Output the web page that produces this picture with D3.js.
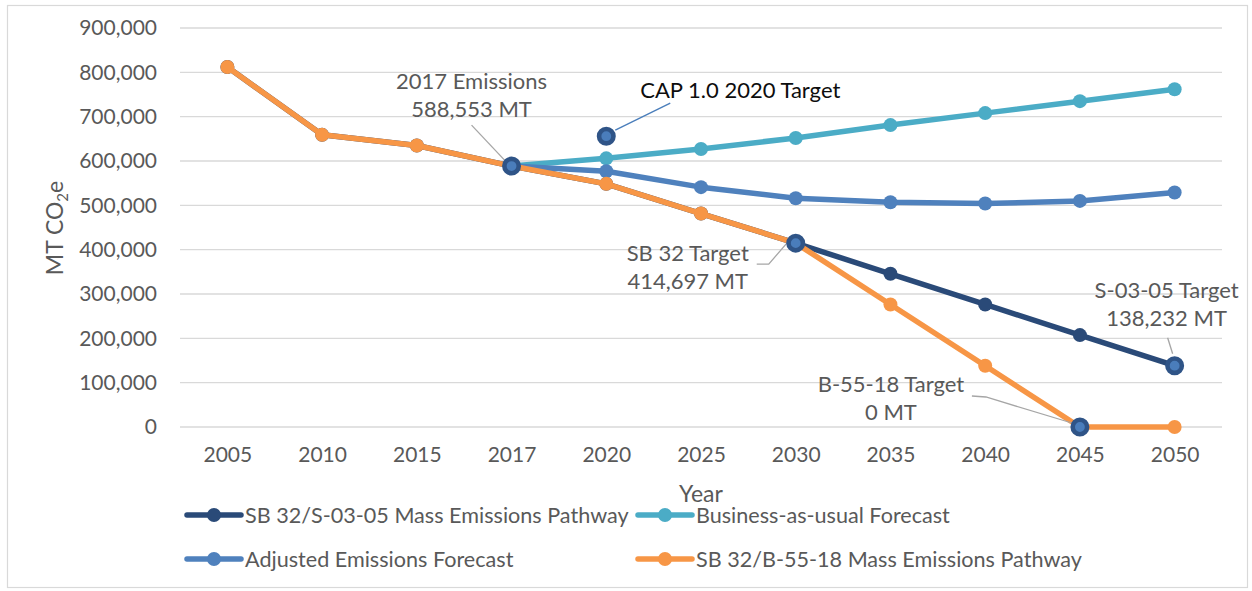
<!DOCTYPE html>
<html>
<head>
<meta charset="utf-8">
<script src="https://cdn.jsdelivr.net/npm/d3@7"></script>
<style>
  html,body{margin:0;padding:0;background:#fff;}
  svg{display:block;}
  text{font-family:Lato, "Open Sans", sans-serif;}
</style>
</head>
<body>
<svg id="chart" width="1252" height="591"></svg>
<script>
// ---- data ----
const years = ["2005","2010","2015","2017","2020","2025","2030","2035","2040","2045","2050"];
const sb32S0305 = [812000, 659000, 635000, 588553, 548432, 481564, 414697, 345581, 276465, 207349, 138232];
const bau       = [null, null, null, 588553, 606000, 627000, 652000, 681000, 708000, 735000, 762000];
const adjusted  = [null, null, null, 588553, 577000, 541000, 516000, 507000, 504000, 510000, 529000];
const sb32B5518 = [812000, 659000, 635000, 588553, 548432, 481564, 414697, 276465, 138232, 0, 0];
const yTicks = [0,100000,200000,300000,400000,500000,600000,700000,800000,900000];
const seriesNames = ["SB 32/S-03-05 Mass Emissions Pathway","Business-as-usual Forecast","Adjusted Emissions Forecast","SB 32/B-55-18 Mass Emissions Pathway"];
const targetYears = ["2017","2020","2030","2045","2050"];
const targetValues = [588553, 656000, 414697, 0, 138232];
const annoLines = [["2017 Emissions","588,553 MT"],["CAP 1.0 2020 Target"],["SB 32 Target","414,697 MT"],["B-55-18 Target","0 MT"],["S-03-05 Target","138,232 MT"]];

// ---- style ----
const colors = ["#2a4a78","#4bacc6","#4f81bd","#f79646"];
const textGray = "#595959";
const gridGray = "#d9d9d9";

const svg = d3.select("#chart");
// outer border
svg.append("rect").attr("x",7.5).attr("y",5.5).attr("width",1240).attr("height",582)
  .attr("fill","none").attr("stroke",gridGray).attr("stroke-width",1.2);

const x = d3.scalePoint().domain(years).range([180,1222]).padding(0.5);
const y = d3.scaleLinear().domain([0,900000]).range([427,28]);

// grid
svg.append("g").selectAll("line").data(yTicks).join("line")
  .attr("x1",180).attr("x2",1222).attr("y1",d=>y(d)).attr("y2",d=>y(d))
  .attr("stroke",gridGray).attr("stroke-width",1.4);

// y axis labels
const yAxis = d3.axisLeft(y).tickValues(yTicks).tickFormat(d3.format(",")).tickSize(0).tickPadding(0);
const gy = svg.append("g").attr("transform","translate(157,0)").call(yAxis);
gy.select(".domain").remove();
gy.selectAll("text").attr("fill",textGray).style("font-size","21px").style("font-family","Lato");

// x axis labels
const xAxis = d3.axisBottom(x).tickSize(0).tickPadding(0);
const gx = svg.append("g").attr("transform","translate(0,447)").call(xAxis);
gx.select(".domain").remove();
gx.selectAll("text").attr("fill",textGray).style("font-size","21px").style("font-family","Lato");

// axis titles
svg.append("text").attr("x",701).attr("y",502).attr("text-anchor","middle")
  .attr("fill",textGray).style("font-size","23px").text("Year");
const yt = svg.append("text").attr("transform","translate(63,228) rotate(-90)").attr("text-anchor","middle")
  .attr("fill",textGray).style("font-size","23px");
yt.append("tspan").text("MT CO");
yt.append("tspan").attr("dy",5).style("font-size","15px").text("2");
yt.append("tspan").attr("dy",-5).text("e");

// series
const allSeries = [sb32S0305, bau, adjusted, sb32B5518];
const line = d3.line().defined(d=>d.v!=null).x(d=>x(d.year)).y(d=>y(d.v));
allSeries.forEach((vals,i)=>{
  const pts = years.map((yr,j)=>({year:yr, v:vals[j]}));
  const g = svg.append("g");
  g.append("path").datum(pts).attr("d",line).attr("fill","none")
    .attr("stroke",colors[i]).attr("stroke-width",5.5).attr("stroke-linejoin","round");
  g.selectAll("circle").data(pts.filter(d=>d.v!=null)).join("circle")
    .attr("cx",d=>x(d.year)).attr("cy",d=>y(d.v)).attr("r",7).attr("fill",colors[i]);
});

// leader lines (drawn beneath target markers)
const pos = i => [x(targetYears[i]), y(targetValues[i])];
const leaders = svg.append("g").attr("fill","none").attr("stroke","#a6a6a6").attr("stroke-width",1.3);
{
  let [ax,ay] = pos(0);
  leaders.append("path").attr("d",`M${ax-40},${ay-41} L${ax-7},${ay-6}`);
  [ax,ay] = pos(2);
  leaders.append("path").attr("d",`M${ax-39},${ay+21} L${ax-27},${ay+21} L${ax-8},${ay-1}`);
  [ax,ay] = pos(3);
  leaders.append("path").attr("d",`M${ax-108},${ay-31} L${ax-94},${ay-30} L${ax-8},${ay-4}`);
  [ax,ay] = pos(4);
  leaders.append("path").attr("d",`M${ax-7},${ay-28} L${ax-2},${ay-12}`);
  [ax,ay] = pos(1);
  svg.append("path").attr("d",`M${ax+9},${ay-6} L${ax+64},${ay-33}`)
    .attr("stroke","#4a7ebb").attr("stroke-width",1.4).attr("fill","none");
}

// target markers
svg.append("g").selectAll("circle").data(targetYears.map((t,i)=>({year:t,v:targetValues[i]}))).join("circle")
  .attr("cx",d=>x(d.year)).attr("cy",d=>y(d.v)).attr("r",7.2)
  .attr("fill","#4a7dbb").attr("stroke","#2f5487").attr("stroke-width",4.6);

// annotation text
function anno(lines, cx, cy, anchor, color){
  lines.forEach((s,k)=>{
    svg.append("text").attr("x",cx).attr("y",cy + k*28).attr("text-anchor",anchor)
      .attr("dominant-baseline","central").attr("fill",color).style("font-size","22px").text(s);
  });
}
{
  let [ax,ay] = pos(0); anno(annoLines[0], ax-40, ay-86, "middle", textGray);
  [ax,ay] = pos(1); anno(annoLines[1], ax+34, ay-47, "start", "#0d0d0d");
  [ax,ay] = pos(2); anno(annoLines[2], ax-108, ay+9, "middle", textGray);
  [ax,ay] = pos(3); anno(annoLines[3], ax-189, ay-44, "middle", textGray);
  [ax,ay] = pos(4); anno(annoLines[4], ax-8, ay-76, "middle", textGray);
}

// legend
const legendX = [187, 638];
const legendY = [515, 559];
const legendOrder = [0,1,2,3];
legendOrder.forEach((si,k)=>{
  const lx = legendX[k%2], ly = legendY[Math.floor(k/2)];
  const g = svg.append("g");
  g.append("line").attr("x1",lx).attr("x2",lx+54).attr("y1",ly).attr("y2",ly)
    .attr("stroke",colors[si]).attr("stroke-width",5.5).attr("stroke-linecap","round");
  g.append("circle").attr("cx",lx+27).attr("cy",ly).attr("r",7).attr("fill",colors[si]);
  g.append("text").attr("x",lx+58).attr("y",ly).attr("dominant-baseline","central")
    .attr("fill",textGray).style("font-size","21.6px").text(seriesNames[si]);
});
</script>
</body>
</html>
